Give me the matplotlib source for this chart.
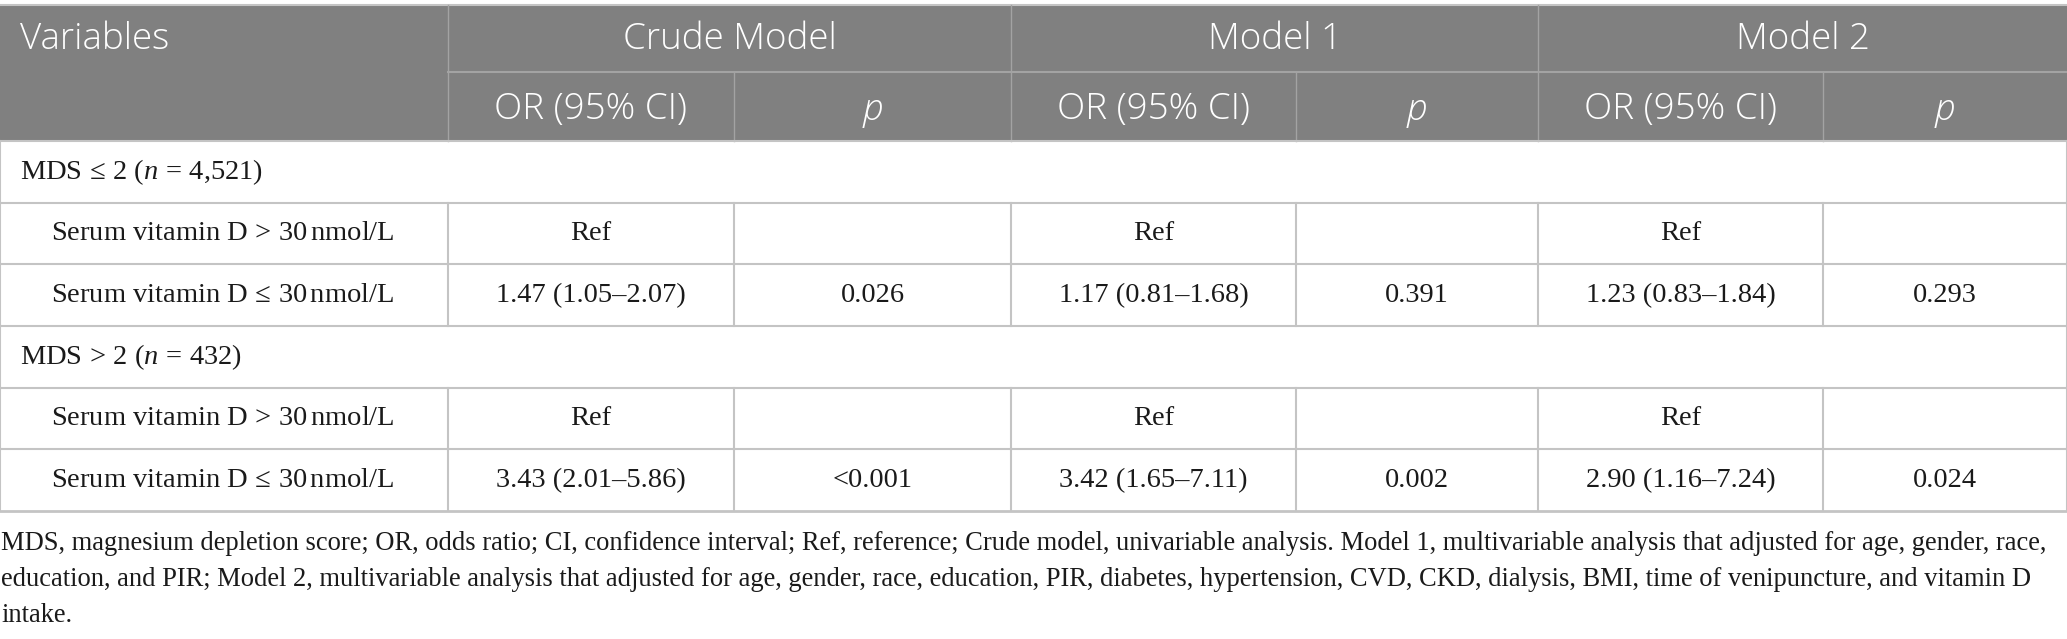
import matplotlib
matplotlib.use("Agg")
import matplotlib.pyplot as plt

# table content
groups = [r"MDS$\,\leq\,$2 ($n\,=\,$4,521)", r"MDS$\,>\,$2 ($n\,=\,$432)"]
row_labels = [r"Serum vitamin D$\,>\,$30$\,$nmol/L", r"Serum vitamin D$\,\leq\,$30$\,$nmol/L"]
models = ["Crude Model", "Model 1", "Model 2"]
sub_heads = ["OR (95% CI)", "p"]

crude_or = [["Ref", "1.47 (1.05–2.07)"], ["Ref", "3.43 (2.01–5.86)"]]
crude_p = [["", "0.026"], ["", "<0.001"]]
m1_or = [["Ref", "1.17 (0.81–1.68)"], ["Ref", "3.42 (1.65–7.11)"]]
m1_p = [["", "0.391"], ["", "0.002"]]
m2_or = [["Ref", "1.23 (0.83–1.84)"], ["Ref", "2.90 (1.16–7.24)"]]
m2_p = [["", "0.293"], ["", "0.024"]]

footnote = [
    "MDS, magnesium depletion score; OR, odds ratio; CI, confidence interval; Ref, reference; Crude model, univariable analysis. Model 1, multivariable analysis that adjusted for age, gender, race,",
    "education, and PIR; Model 2, multivariable analysis that adjusted for age, gender, race, education, PIR, diabetes, hypertension, CVD, CKD, dialysis, BMI, time of venipuncture, and vitamin D",
    "intake.",
]

plt.rcParams["mathtext.fontset"] = "custom"
plt.rcParams["mathtext.rm"] = "Liberation Serif"
plt.rcParams["mathtext.it"] = "Liberation Serif:italic"

W, H = 2067, 639
fig = plt.figure(figsize=(W / 100, H / 100), dpi=100)
ax = fig.add_axes([0, 0, 1, 1])
ax.set_xlim(0, W)
ax.set_ylim(H, 0)
ax.axis("off")

col_x = [0, 448, 734, 1011, 1296, 1538, 1823, 2067]
head_top, head_mid, head_bot = 5, 72, 141
row_h = 61.7
hdr_bg = "#808080"
hdr_line = "#a3a3a3"
grid = "#c4c4c4"
txt = "#1a1a1a"
sans = "Open Sans"
serif = "Liberation Serif"

# header
ax.fill_between([0, W], head_top, head_bot, color=hdr_bg, lw=0)
ax.plot([0, W], [head_top, head_top], color=grid, lw=1.5)
ax.plot([col_x[1], W], [head_mid, head_mid], color=hdr_line, lw=1.5)
for x in [col_x[1], col_x[3], col_x[5]]:
    ax.plot([x, x], [head_top, head_bot], color=hdr_line, lw=1)
for x in [col_x[2], col_x[4], col_x[6]]:
    ax.plot([x, x], [head_mid, head_bot], color=hdr_line, lw=1)

ax.text(20, (head_top + head_mid) / 2 + 1, "Variables", color="white", fontsize=26.5,
        family=sans, weight="light", ha="left", va="center")
for i, m in enumerate(models):
    xc = (col_x[1 + 2 * i] + col_x[3 + 2 * i]) / 2
    ax.text(xc, (head_top + head_mid) / 2 + 1, m, color="white", fontsize=26.5,
            family=sans, weight="light", ha="center", va="center")
    for j, s in enumerate(sub_heads):
        xs = (col_x[1 + 2 * i + j] + col_x[2 + 2 * i + j]) / 2
        ax.text(xs, (head_mid + head_bot) / 2 + 3, s, color="white", fontsize=26.5,
                family=sans, weight="light", ha="center", va="center",
                style="italic" if s == "p" else "normal")

# body
cols = [crude_or, crude_p, m1_or, m1_p, m2_or, m2_p]
y = head_bot
ax.plot([0, W], [y, y], color=grid, lw=1.5)
for g, grp in enumerate(groups):
    ax.plot([0, 0], [y, y + row_h], color=grid, lw=1.5)
    ax.plot([W, W], [y, y + row_h], color=grid, lw=1.5)
    ax.text(20, y + row_h / 2, grp, color=txt, fontsize=20.5, family=serif,
            ha="left", va="center")
    y += row_h
    ax.plot([0, W], [y, y], color=grid, lw=1.5)
    for r, lab in enumerate(row_labels):
        for x in col_x:
            ax.plot([x, x], [y, y + row_h], color=grid, lw=1.5)
        ax.text(51, y + row_h / 2, lab, color=txt, fontsize=20.5, family=serif,
                ha="left", va="center")
        for c, vals in enumerate(cols):
            xc = (col_x[c + 1] + col_x[c + 2]) / 2
            ax.text(xc, y + row_h / 2, vals[g][r], color=txt, fontsize=20.5,
                    family=serif, ha="center", va="center")
        y += row_h
        ax.plot([0, W], [y, y], color=grid, lw=2 if (g == 1 and r == 1) else 1.5)

# footnote
for k, line in enumerate(footnote):
    ax.text(1, 550 + 36 * k, line, color=txt, fontsize=19.1, family=serif,
            ha="left", va="baseline")

fig.savefig("out.png", dpi=100)
